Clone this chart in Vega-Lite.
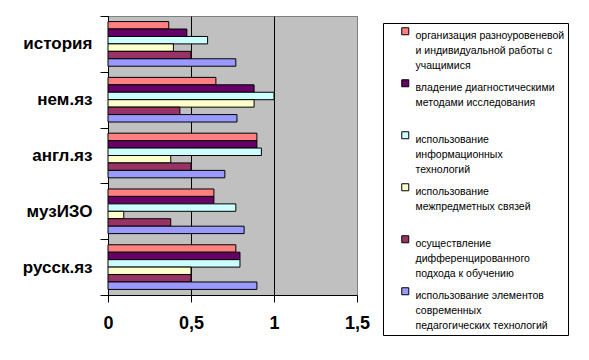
{
  "$schema": "https://vega.github.io/schema/vega-lite/v6.json",
  "autosize": "none",
  "width": 249,
  "height": 279,
  "padding": {"left": 108, "top": 16, "right": 232, "bottom": 65},
  "background": "white",
  "config": {
    "view": {"fill": "#C0C0C0", "stroke": "#808080", "strokeWidth": 1},
    "font": "Liberation Sans"
  },
  "data": {
    "values": [
      {"cat": "история", "series": "организация разноуровеневой и индивидуальной работы с учащимися", "value": 0.366},
      {"cat": "история", "series": "владение диагностическими методами исследования", "value": 0.475},
      {"cat": "история", "series": "использование информационных технологий", "value": 0.6},
      {"cat": "история", "series": "использование межпредметных связей", "value": 0.394},
      {"cat": "история", "series": "осуществление дифференцированного подхода к обучению", "value": 0.5},
      {"cat": "история", "series": "использование элементов современных педагогических технологий", "value": 0.77},
      {"cat": "нем.яз", "series": "организация разноуровеневой и индивидуальной работы с учащимися", "value": 0.65},
      {"cat": "нем.яз", "series": "владение диагностическими методами исследования", "value": 0.88},
      {"cat": "нем.яз", "series": "использование информационных технологий", "value": 1.0},
      {"cat": "нем.яз", "series": "использование межпредметных связей", "value": 0.88},
      {"cat": "нем.яз", "series": "осуществление дифференцированного подхода к обучению", "value": 0.433},
      {"cat": "нем.яз", "series": "использование элементов современных педагогических технологий", "value": 0.777},
      {"cat": "англ.яз", "series": "организация разноуровеневой и индивидуальной работы с учащимися", "value": 0.897},
      {"cat": "англ.яз", "series": "владение диагностическими методами исследования", "value": 0.897},
      {"cat": "англ.яз", "series": "использование информационных технологий", "value": 0.924},
      {"cat": "англ.яз", "series": "использование межпредметных связей", "value": 0.378},
      {"cat": "англ.яз", "series": "осуществление дифференцированного подхода к обучению", "value": 0.5},
      {"cat": "англ.яз", "series": "использование элементов современных педагогических технологий", "value": 0.704},
      {"cat": "музИЗО", "series": "организация разноуровеневой и индивидуальной работы с учащимися", "value": 0.638},
      {"cat": "музИЗО", "series": "владение диагностическими методами исследования", "value": 0.638},
      {"cat": "музИЗО", "series": "использование информационных технологий", "value": 0.77},
      {"cat": "музИЗО", "series": "использование межпредметных связей", "value": 0.095},
      {"cat": "музИЗО", "series": "осуществление дифференцированного подхода к обучению", "value": 0.378},
      {"cat": "музИЗО", "series": "использование элементов современных педагогических технологий", "value": 0.82},
      {"cat": "русск.яз", "series": "организация разноуровеневой и индивидуальной работы с учащимися", "value": 0.77},
      {"cat": "русск.яз", "series": "владение диагностическими методами исследования", "value": 0.795},
      {"cat": "русск.яз", "series": "использование информационных технологий", "value": 0.795},
      {"cat": "русск.яз", "series": "использование межпредметных связей", "value": 0.5},
      {"cat": "русск.яз", "series": "осуществление дифференцированного подхода к обучению", "value": 0.5},
      {"cat": "русск.яз", "series": "использование элементов современных педагогических технологий", "value": 0.897}
    ]
  },
  "mark": {"type": "bar", "stroke": "black", "strokeWidth": 1},
  "encoding": {
    "y": {
      "field": "cat",
      "type": "nominal",
      "sort": ["история", "нем.яз", "англ.яз", "музИЗО", "русск.яз"],
      "scale": {"paddingInner": 0, "paddingOuter": 0},
      "axis": {
        "title": null,
        "tickBand": "extent",
        "tickSize": 8,
        "tickColor": "black",
        "domainColor": "black",
        "labelPadding": 8,
        "labelFont": "Liberation Sans",
        "labelFontWeight": "bold",
        "labelFontSize": 17,
        "labelColor": "black"
      }
    },
    "yOffset": {
      "field": "series",
      "type": "nominal",
      "sort": [
        "организация разноуровеневой и индивидуальной работы с учащимися",
        "владение диагностическими методами исследования",
        "использование информационных технологий",
        "использование межпредметных связей",
        "осуществление дифференцированного подхода к обучению",
        "использование элементов современных педагогических технологий"
      ],
      "scale": {"paddingInner": 0, "paddingOuter": 0.75}
    },
    "x": {
      "field": "value",
      "type": "quantitative",
      "scale": {"domain": [0, 1.5], "nice": false},
      "axis": {
        "title": null,
        "values": [0, 0.5, 1, 1.5],
        "format": "~g",
        "labelExpr": "replace(datum.label, '.', ',')",
        "grid": true,
        "gridColor": {"condition": {"test": "datum.value == 1.5", "value": "#808080"}, "value": "black"},
        "gridOpacity": 1,
        "tickSize": 7,
        "tickColor": "black",
        "domainColor": "black",
        "labelPadding": 12,
        "labelFont": "Liberation Sans",
        "labelFontWeight": "bold",
        "labelFontSize": 18,
        "labelColor": "black",
        "labelFlush": false
      }
    },
    "color": {
      "field": "series",
      "type": "nominal",
      "scale": {
        "domain": [
          "организация разноуровеневой и индивидуальной работы с учащимися",
          "владение диагностическими методами исследования",
          "использование информационных технологий",
          "использование межпредметных связей",
          "осуществление дифференцированного подхода к обучению",
          "использование элементов современных педагогических технологий"
        ],
        "range": ["#FF8080", "#660066", "#CCFFFF", "#FFFFCC", "#993366", "#9999FF"]
      },
      "legend": {
        "title": null,
        "orient": "none",
        "legendX": 275,
        "legendY": 7,
        "strokeColor": "black",
        "fillColor": "white",
        "padding": 3,
        "rowPadding": 5,
        "symbolOffset": 14,
        "labelOffset": 5,
        "symbolType": "square",
        "symbolSize": 49,
        "symbolStrokeColor": "black",
        "symbolStrokeWidth": 1,
        "symbolOpacity": 1,
        "labelFont": "Liberation Sans",
        "labelFontSize": 10.5,
        "labelColor": "black",
        "labelLimit": 400,
        "labelBaseline": "top",
        "encode": {"labels": {"update": {"lineHeight": {"value": 15}}}},
        "labelExpr": "datum.label == 'организация разноуровеневой и индивидуальной работы с учащимися' ? ['организация разноуровеневой', 'и индивидуальной работы с', 'учащимися'] : datum.label == 'владение диагностическими методами исследования' ? ['владение диагностическими', 'методами исследования', ' '] : datum.label == 'использование информационных технологий' ? ['использование', 'информационных', 'технологий'] : datum.label == 'использование межпредметных связей' ? ['использование', 'межпредметных связей', ' '] : datum.label == 'осуществление дифференцированного подхода к обучению' ? ['осуществление', 'дифференцированного', 'подхода к обучению'] : ['использование элементов', 'современных', 'педагогических технологий']"
      }
    }
  }
}
